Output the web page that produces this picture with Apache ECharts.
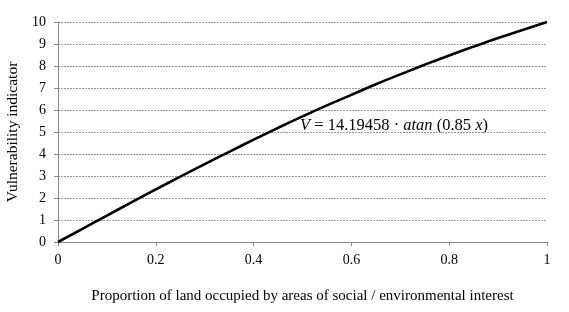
<!DOCTYPE html>
<html>
<head>
<meta charset="utf-8">
<script src="https://cdn.jsdelivr.net/npm/echarts@6/dist/echarts.min.js"></script>
<style>
html,body{margin:0;padding:0;background:#fff;}
#c{width:569px;height:312px;}
</style>
</head>
<body>
<div id="c"></div>
<script>
const xValues = [0, 0.05, 0.1, 0.15, 0.2, 0.25, 0.3, 0.35, 0.4, 0.45, 0.5, 0.55, 0.6, 0.65, 0.7, 0.75, 0.8, 0.85, 0.9, 0.95, 1.0];
const vValues = [0, 0.60, 1.20, 1.80, 2.39, 2.97, 3.54, 4.10, 4.65, 5.19, 5.71, 6.21, 6.69, 7.17, 7.62, 8.06, 8.48, 8.88, 9.27, 9.64, 10.0];
const xAxisName = 'Proportion of land occupied by areas of social / environmental interest';
const yAxisName = 'Vulnerability indicator';

const FONT = '"Liberation Serif", "Times New Roman", serif';
const chart = echarts.init(document.getElementById('c'), null, {renderer: 'canvas'});
chart.setOption({
  animation: false,
  backgroundColor: '#fff',
  grid: {left: 58, right: 22, top: 22, bottom: 70, containLabel: false, outerBoundsMode: 'none'},
  xAxis: {
    type: 'value', min: 0, max: 1, interval: 0.2,
    name: xAxisName, nameLocation: 'middle', nameGap: 47,
    nameTextStyle: {fontFamily: FONT, fontSize: 15, color: '#000'},
    axisLine: {show: true, onZero: false, lineStyle: {color: '#888', width: 1}},
    axisTick: {show: true, inside: false, length: 4, lineStyle: {color: '#888'}},
    axisLabel: {fontFamily: FONT, fontSize: 14, color: '#000', margin: 11},
    splitLine: {show: false}
  },
  yAxis: {
    type: 'value', min: 0, max: 10, interval: 1,
    name: yAxisName, nameLocation: 'middle', nameGap: 28, nameRotate: 90,
    nameTextStyle: {fontFamily: FONT, fontSize: 15.5, color: '#000', verticalAlign: 'bottom'},
    axisLine: {show: true, lineStyle: {color: '#888', width: 1}},
    axisTick: {show: true, inside: false, length: 4, lineStyle: {color: '#888'}},
    axisLabel: {fontFamily: FONT, fontSize: 14, color: '#000', margin: 12},
    splitLine: {show: true, lineStyle: {color: '#999', type: [2, 1], width: 1}}
  },
  series: [{
    type: 'line',
    data: xValues.map((x, i) => [x, vValues[i]]),
    smooth: true,
    symbol: 'none',
    lineStyle: {color: '#000', width: 2.6},
    z: 5
  }],
  graphic: [{
    type: 'text',
    left: 300, top: 117,
    style: {
      text: '{i|V} = 14.19458 · {i|atan} (0.85 {i|x})',
      font: '16.5px ' + FONT,
      fill: '#000',
      rich: {
        i: {fontStyle: 'italic', fontFamily: FONT, fontSize: 16.5, fill: '#000'}
      }
    }
  }]
});
</script>
</body>
</html>
